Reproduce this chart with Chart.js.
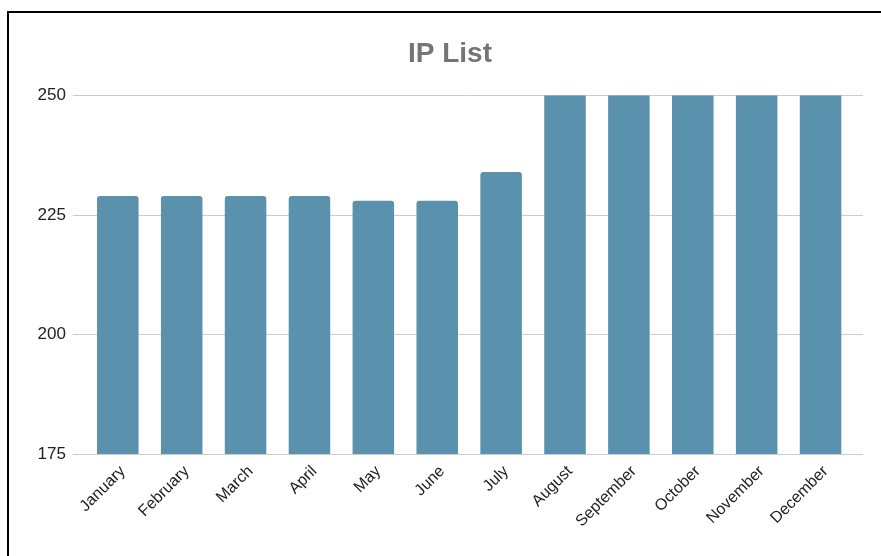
<!DOCTYPE html>
<html>
<head>
<meta charset="utf-8">
<script src="https://cdn.jsdelivr.net/npm/chart.js@4.4.1/dist/chart.umd.min.js"></script>
<style>
    html, body {margin: 0; padding: 0; background: #fff; overflow: hidden;}
    #frame {position: absolute; left: 7px; top: 11px; width: 872px; height: 543px;
        border-left: 2px solid #000; border-top: 2px solid #000;}
    #frame canvas {display: block;}
</style>
</head>
<body>
<div id="frame"><canvas id="ipChart" width="872" height="543"></canvas></div>
<script>
    // months on the x axis
    let months = ['January', 'February', 'March', 'April', 'May', 'June',
        'July', 'August', 'September', 'October', 'November', 'December'];
    // IP count per month (Aug-Dec run past the top of the axis)
    let ipCounts = [229, 229, 229, 229, 228, 228, 234, 251, 251, 251, 251, 251];
    let yTicks = [175, 200, 225, 250];

    let gridColor = '#cccccc';
    let textColor = '#222222';
    let fontFamily = "'Liberation Sans', Arial, sans-serif";

    let chartElement = document.getElementById('ipChart');
    let chart = new Chart(chartElement, {
        type: 'bar',
        data: {
            labels: months,
            datasets: [{
                label: 'IP List',
                data: ipCounts,
                backgroundColor: '#5a91ad',
                borderRadius: 3,
                barPercentage: 0.65,
                categoryPercentage: 1
            }]
        },
        options: {
            responsive: false,
            animation: false,
            layout: {padding: {left: 28, right: 18, top: 0, bottom: 0}},
            plugins: {
                legend: {display: false},
                tooltip: {enabled: false},
                title: {
                    display: true,
                    text: 'IP List',
                    color: '#757575',
                    font: {family: fontFamily, size: 28, weight: 'bold'},
                    padding: {top: 24, bottom: 25}
                }
            },
            scales: {
                x: {
                    grid: {display: false},
                    border: {display: false},
                    ticks: {
                        color: textColor,
                        font: {family: fontFamily, size: 16},
                        maxRotation: 45,
                        minRotation: 45,
                        autoSkip: false,
                        padding: 0,
                        labelOffset: 5
                    },
                    afterFit: function (scale) {
                        scale.height = 102;
                    }
                },
                y: {
                    min: yTicks[0],
                    max: yTicks[yTicks.length - 1],
                    afterBuildTicks: function (scale) {
                        scale.ticks = yTicks.map(v => ({value: v}));
                    },
                    grid: {color: gridColor, lineWidth: 1, tickLength: 13, tickColor: gridColor},
                    border: {display: false},
                    ticks: {
                        color: textColor,
                        font: {family: fontFamily, size: 17},
                        padding: 7
                    },
                    afterFit: function (scale) {
                        scale.width = 48.85;
                    }
                },
                yRight: {
                    position: 'right',
                    min: yTicks[0],
                    max: yTicks[yTicks.length - 1],
                    afterBuildTicks: function (scale) {
                        scale.ticks = yTicks.map(v => ({value: v}));
                    },
                    grid: {drawOnChartArea: false, tickLength: 10.5, tickColor: gridColor, lineWidth: 1},
                    border: {display: false},
                    ticks: {display: false},
                    afterFit: function (scale) {
                        scale.width = 10.5;
                    }
                }
            }
        }
    });
</script>
</body>
</html>
